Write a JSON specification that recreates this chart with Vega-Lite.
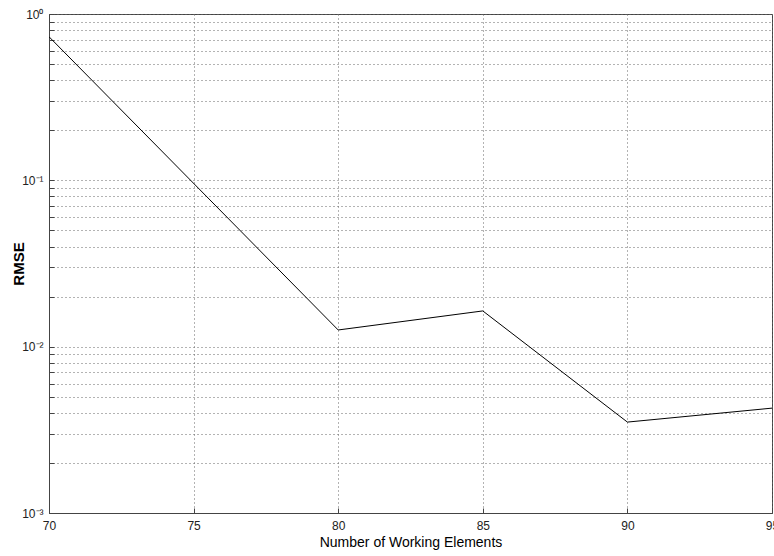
{
  "$schema": "https://vega.github.io/schema/vega-lite/v6.json",
  "autosize": "none",
  "width": 723,
  "height": 499,
  "padding": {"left": 49, "top": 14, "right": 2, "bottom": 43},
  "background": "white",
  "config": {
    "view": {"stroke": "#444", "strokeWidth": 1},
    "font": "Liberation Sans",
    "axis": {
      "labelFont": "Liberation Sans",
      "labelFontSize": 12,
      "labelColor": "#222",
      "domainColor": "#444",
      "tickColor": "#444",
      "gridColor": "#666",
      "gridDash": [1, 3],
      "gridWidth": 1,
      "titleColor": "#000"
    }
  },
  "data": {
    "values": [
      {"elements": 70, "rmse": 0.73},
      {"elements": 80, "rmse": 0.0126},
      {"elements": 85, "rmse": 0.0164},
      {"elements": 90, "rmse": 0.00352},
      {"elements": 95, "rmse": 0.00427}
    ]
  },
  "layer": [
    {
      "mark": {"type": "line", "color": "black", "strokeWidth": 1, "clip": true},
      "encoding": {
        "x": {
          "field": "elements",
          "type": "quantitative",
          "scale": {"domain": [70, 95], "nice": false, "zero": false},
          "axis": {
            "values": [70, 75, 80, 85, 90, 95],
            "title": "Number of Working Elements",
            "titleFont": "Liberation Sans",
            "titleFontSize": 14,
            "titleFontWeight": "normal",
            "titlePadding": 4,
            "labelFontSize": 12,
            "labelPadding": 12,
            "tickSize": -5,
            "grid": true,
            "labelFlush": false
          }
        },
        "y": {
          "field": "rmse",
          "type": "quantitative",
          "scale": {"type": "log", "domain": [0.001, 1], "nice": false},
          "axis": {
            "values": [0.001, 0.002, 0.003, 0.004, 0.005, 0.006, 0.007, 0.008, 0.009, 0.01, 0.02, 0.03, 0.04, 0.05, 0.06, 0.07, 0.08, 0.09, 0.1, 0.2, 0.3, 0.4, 0.5, 0.6, 0.7, 0.8, 0.9, 1],
            "labelExpr": "datum.value == 1 ? '10⁰' : datum.value == 0.1 ? '10⁻¹' : datum.value == 0.01 ? '10⁻²' : datum.value == 0.001 ? '10⁻³' : ''",
            "title": "RMSE",
            "titleFontSize": 15,
            "titleFontWeight": "bold",
            "titleFont": "Liberation Sans",
            "titleX": -31,
            "titleBaseline": "middle",
            "labelFontSize": 12,
            "labelPadding": 11,
            "tickSize": -5,
            "grid": true,
            "labelFlush": false,
            "labelOverlap": false
          }
        }
      }
    }
  ]
}
